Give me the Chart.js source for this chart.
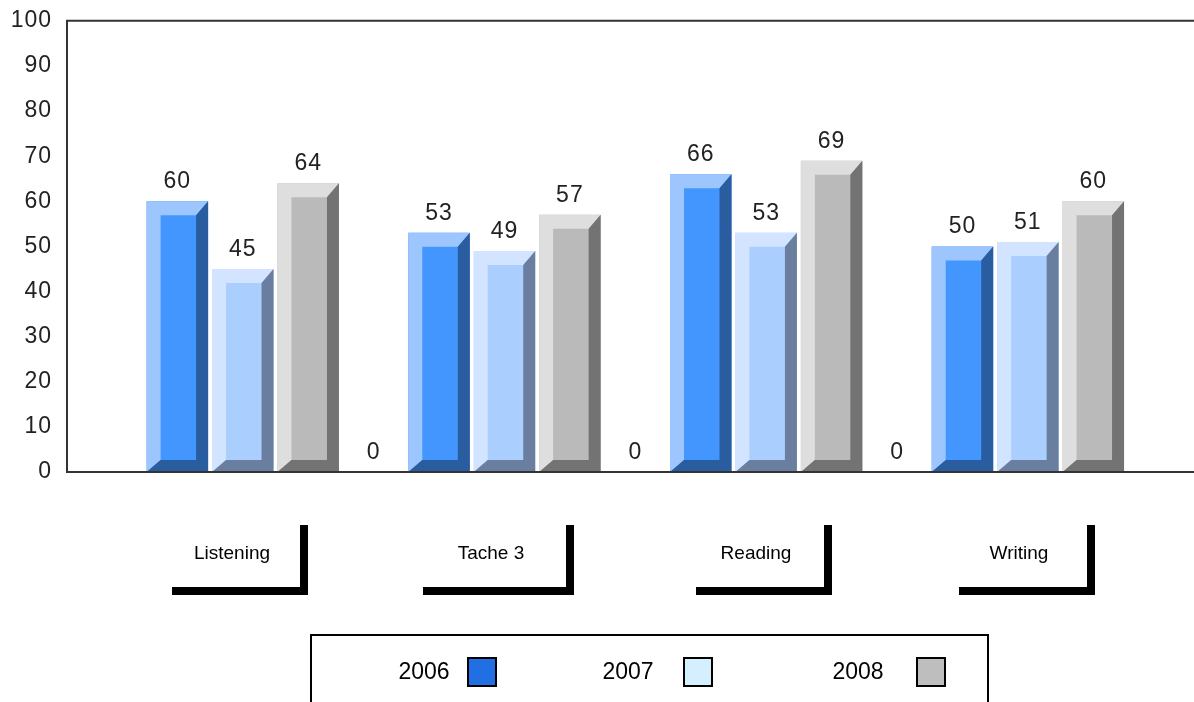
<!DOCTYPE html>
<html>
<head>
<meta charset="utf-8">
<title>Chart</title>
<script src="https://cdn.jsdelivr.net/npm/chart.js@4"></script>
<style>
  html, body { margin: 0; padding: 0; background: #fff; overflow: hidden; }
  #wrap { width: 1194px; height: 702px; position: relative; }
</style>
</head>
<body>
<div id="wrap"><canvas id="scoreChart"></canvas></div>
<script>
const categories = ["Listening", "Tache 3", "Reading", "Writing"];
const years = ["2006", "2007", "2008"];
const values2006 = [60, 53, 66, 50];
const values2007 = [45, 49, 53, 51];
const values2008 = [64, 57, 69, 60];
// the source chart has an empty fourth series, only its "0" labels show
const valuesBlank = [0, 0, 0, null];
const yTicks = [0, 10, 20, 30, 40, 50, 60, 70, 80, 90, 100];

const VALUE_FONT = "23px 'Liberation Sans'";
const VALUE_SPACING = "1px";
const BEVEL = { left: 14, top: 14, right: 12, bottom: 12 };

// light edge (top, left), front face, dark edge (right, bottom)
const shades = [
    { light: "#9DC6FF", front: "#4496FF", dark: "#2A5CA0" },
    { light: "#D2E4FF", front: "#AACFFF", dark: "#6A7F9F" },
    { light: "#DEDEDE", front: "#BABABA", dark: "#737373" },
];
const swatchColors = ["#2170E3", "#D4F0FF", "#BEBEBE"];

// L shaped frames under the plot
const labelFrames = [
    { left: 172, right: 308, textX: 232 },
    { left: 423, right: 574, textX: 491 },
    { left: 696, right: 832, textX: 756 },
    { left: 959, right: 1095, textX: 1019 },
];
const legendSlots = [
    { textX: 424, boxX: 467 },
    { textX: 628, boxX: 683 },
    { textX: 858, boxX: 916 },
];

function toPoints(values) {
    return values.map((v, i) => ({ x: i, y: v }));
}

function polygon(ctx, color, points) {
    ctx.fillStyle = color;
    ctx.beginPath();
    points.forEach((p, i) => (i === 0 ? ctx.moveTo(p[0], p[1]) : ctx.lineTo(p[0], p[1])));
    ctx.closePath();
    ctx.fill();
}

function drawBevel(ctx, bar, shade) {
    const l = bar.x - bar.width / 2;
    const r = bar.x + bar.width / 2;
    const t = bar.y;
    const b = bar.base;
    polygon(ctx, shade.light, [[l, t], [r, t], [r - BEVEL.right, t + BEVEL.top], [l + BEVEL.left, t + BEVEL.top], [l + BEVEL.left, b - BEVEL.bottom], [l, b]]);
    polygon(ctx, shade.dark, [[r, t], [r, b], [l, b], [l + BEVEL.left, b - BEVEL.bottom], [r - BEVEL.right, b - BEVEL.bottom], [r - BEVEL.right, t + BEVEL.top]]);
}

const bevelPlugin = {
    id: "bevel",
    beforeDraw(chart) {
        chart.ctx.letterSpacing = VALUE_SPACING; // picked up by the y tick labels
    },
    afterDatasetsDraw(chart) {
        const ctx = chart.ctx;
        ctx.save();
        shades.forEach((shade, i) => {
            chart.getDatasetMeta(i).data.forEach((bar) => drawBevel(ctx, bar, shade));
        });
        ctx.restore();
    },
    afterDraw(chart) {
        const ctx = chart.ctx;
        const area = chart.chartArea;
        ctx.save();

        // axis frame
        ctx.strokeStyle = "#333";
        ctx.lineWidth = 2;
        ctx.beginPath();
        ctx.moveTo(area.right, area.top);
        ctx.lineTo(area.left, area.top);
        ctx.lineTo(area.left, area.bottom);
        ctx.lineTo(area.right, area.bottom);
        ctx.stroke();

        // value labels above the bars
        ctx.font = VALUE_FONT;
        ctx.letterSpacing = VALUE_SPACING;
        ctx.fillStyle = "#222";
        ctx.textAlign = "center";
        ctx.textBaseline = "bottom";
        chart.data.datasets.forEach((ds, i) => {
            chart.getDatasetMeta(i).data.forEach((bar, j) => {
                if (ds.data[j].y === null) return;
                ctx.fillText(String(ds.data[j].y), bar.x, bar.y - 8);
            });
        });
        ctx.letterSpacing = "0px";

        // category labels with their frames
        ctx.fillStyle = "#000";
        categories.forEach((name, i) => {
            const f = labelFrames[i];
            ctx.fillRect(f.left, 587, f.right - f.left, 8);
            ctx.fillRect(f.right - 8, 525, 8, 70);
            ctx.font = "19px 'Liberation Sans'";
            ctx.textBaseline = "middle";
            ctx.fillText(name, f.textX, 554);
        });

        // legend, its box runs off the bottom of the picture
        ctx.strokeStyle = "#000";
        ctx.lineWidth = 2;
        ctx.strokeRect(311, 635, 677, 90);
        years.forEach((year, i) => {
            const s = legendSlots[i];
            ctx.font = "23px 'Liberation Sans'";
            ctx.fillStyle = "#000";
            ctx.fillText(year, s.textX, 673);
            ctx.fillStyle = swatchColors[i];
            ctx.fillRect(s.boxX, 657, 30, 30);
            ctx.strokeRect(s.boxX + 1, 658, 28, 28);
        });
        ctx.restore();
    },
};

new Chart(document.getElementById("scoreChart"), {
    type: "bar",
    plugins: [bevelPlugin],
    data: {
        datasets: [
            { label: years[0], data: toPoints(values2006), backgroundColor: shades[0].front },
            { label: years[1], data: toPoints(values2007), backgroundColor: shades[1].front },
            { label: years[2], data: toPoints(values2008), backgroundColor: shades[2].front },
            { label: "", data: toPoints(valuesBlank), backgroundColor: "rgba(0,0,0,0)" },
        ],
    },
    options: {
        responsive: true,
        maintainAspectRatio: false,
        animation: false,
        layout: { padding: { top: 14, bottom: 230 } },
        datasets: { bar: { categoryPercentage: 1, barPercentage: 0.94 } },
        plugins: { legend: { display: false }, tooltip: { enabled: false } },
        scales: {
            x: {
                type: "linear",
                display: false,
                offset: false,
                min: -0.7967,
                max: 3.5098,
                // bar width comes from the tick gap, keep one tick per group
                afterBuildTicks(axis) { axis.ticks = categories.map((c, i) => ({ value: i })); },
            },
            y: {
                min: 0,
                max: 100,
                afterFit(axis) { axis.width = 67; },
                afterBuildTicks(axis) { axis.ticks = yTicks.map((v) => ({ value: v })); },
                grid: { display: false },
                border: { display: false },
                ticks: {
                    color: "#222",
                    font: { family: "Liberation Sans", size: 23 },
                    padding: 7,
                },
            },
        },
    },
});
</script>
</body>
</html>
